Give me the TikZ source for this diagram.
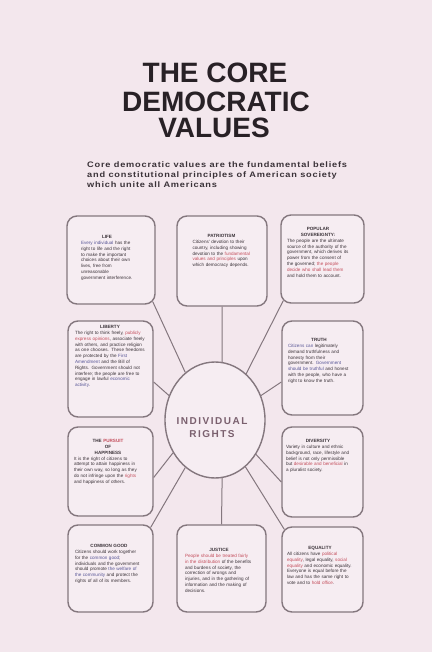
\documentclass[tikz,border=0pt]{standalone}
\usepackage{fontspec}
\setmainfont{Liberation Sans}
\newfontfamily\widefont[FakeStretch=1.15,LetterSpace=10]{Liberation Sans}
\newfontfamily\spacedfont[LetterSpace=15]{Liberation Sans}
\usetikzlibrary{shapes.geometric}
\definecolor{bgpink}{RGB}{243,231,237}
\definecolor{boxfill}{RGB}{246,237,242}
\definecolor{linegray}{RGB}{132,119,126}
\definecolor{titleink}{RGB}{40,33,38}
\definecolor{subink}{RGB}{58,50,56}
\definecolor{bodyink}{RGB}{60,52,58}
\definecolor{redink}{RGB}{196,78,92}
\definecolor{blueink}{RGB}{88,86,150}
\definecolor{rightsink}{RGB}{122,96,110}
\newcommand{\rd}[1]{\textcolor{redink}{#1}}
\newcommand{\bl}[1]{\textcolor{blueink}{#1}}
\tikzset{
  valuebox/.style={draw=linegray, line width=1.4pt, rounded corners=10pt, fill=boxfill, inner sep=0pt},
  spoke/.style={draw=linegray, line width=1pt},
  boxtext/.style={anchor=north, inner sep=0pt, font=\fontsize{4.6}{5.8}\selectfont, text=bodyink},
  bigtitle/.style={anchor=base, font=\bfseries\fontsize{28}{28}\selectfont, text=titleink, inner sep=0pt},
  subtitle/.style={anchor=base west, font=\widefont\bfseries\fontsize{8}{10}\selectfont, text=subink, inner sep=0pt},
}
\begin{document}
\begin{tikzpicture}[x=1pt,y=-1pt]
\fill[bgpink] (0,0) rectangle (432,652);
\useasboundingbox (0,0) rectangle (432,652);

% title
\node[bigtitle] (t1) at (215,83) {THE CORE};
\node[bigtitle] (t2) at (216,112) {DEMOCRATIC};
\node[bigtitle] (t3) at (214,138) {VALUES};
\node[subtitle] (s1) at (87,168) {Core democratic values are the fundamental beliefs};
\node[subtitle] (s2) at (87,178) {and constitutional principles of American society};
\node[subtitle] (s3) at (87,188) {which unite all Americans};

% boxes
\node[valuebox, minimum width=88pt, minimum height=88pt] (life) at (111,260) {};
\node[valuebox, minimum width=90pt, minimum height=90pt] (patr) at (222,261) {};
\node[valuebox, minimum width=83pt, minimum height=88pt] (popsov) at (322.5,259) {};
\node[valuebox, minimum width=85pt, minimum height=96pt] (liberty) at (110.5,369) {};
\node[valuebox, minimum width=81pt, minimum height=94pt] (truth) at (322.5,368) {};
\node[valuebox, minimum width=85pt, minimum height=89pt] (pursuit) at (110.5,471.5) {};
\node[valuebox, minimum width=81pt, minimum height=90pt] (diversity) at (322.5,472) {};
\node[valuebox, minimum width=85pt, minimum height=87pt] (common) at (110.5,568.5) {};
\node[valuebox, minimum width=89pt, minimum height=87pt] (justice) at (221.5,568.5) {};
\node[valuebox, minimum width=81pt, minimum height=85pt] (equality) at (322.5,569.5) {};

% centre
\node[ellipse, draw=linegray, line width=1.4pt, fill=boxfill, minimum width=100pt, minimum height=116pt, inner sep=0pt] (core) at (215,420) {};
\node[font=\spacedfont\bfseries\fontsize{10}{13}\selectfont, text=rightsink, align=center, inner sep=0pt] (rights) at (212,428) {INDIVIDUAL\\RIGHTS};

% spokes
\draw[spoke] ([xshift=-2.9pt,yshift=2.9pt]life.south east) -- (core.122);
\draw[spoke] (patr.south) -- (core.83);
\draw[spoke] ([xshift=2.9pt,yshift=2.9pt]popsov.south west) -- (core.56);
\draw[spoke] ([yshift=-13pt]liberty.east) -- (core.152);
\draw[spoke] ([yshift=-14pt]truth.west) -- (core.28);
\draw[spoke] ([yshift=-6pt]pursuit.east) -- (core.218);
\draw[spoke] ([yshift=-10pt]diversity.west) -- (core.-40);
\draw[spoke] ([xshift=-2.9pt,yshift=-2.9pt]common.north east) -- (core.238);
\draw[spoke] (justice.north) -- (core.-83);
\draw[spoke] ([xshift=2.9pt,yshift=-2.9pt]equality.north west) -- (core.-57);

% texts
\node[boxtext, text width=52pt] (lifetxt) at ([xshift=-4pt,yshift=-20pt]life.north)
 {\centering\textbf{LIFE}\par\raggedright \bl{Every individual} has the right to life and the right to make the important choices about their own lives, free from unreasonable government interference.\par};
\node[boxtext, text width=58pt] (patrtxt) at ([xshift=-0.5pt,yshift=-19pt]patr.north)
 {\centering\textbf{PATRIOTISM}\par\raggedright Citizens' devotion to their country, including showing devotion to the \rd{fundamental values and principles} upon which democracy depends.\par};
\node[boxtext, text width=62pt] (popsovtxt) at ([xshift=-4.5pt,yshift=-13pt]popsov.north)
 {\centering\textbf{POPULAR\\SOVEREIGNTY:}\par\raggedright The people are the ultimate source of the authority of the government, which derives its power from the consent of the governed; \rd{the people decide who shall lead them} and hold them to account.\par};
\node[boxtext, text width=70pt] (libertytxt) at ([xshift=-0.5pt,yshift=-5pt]liberty.north)
 {\centering\textbf{LIBERTY}\par\raggedright The right to think freely, \rd{publicly express opinions}, associate freely with others, and practice religion as one chooses. These freedoms are protected by the \bl{First Amendment} and the Bill of Rights. Government should not interfere; the people are free to engage in lawful \bl{economic activity}.\par};
\node[boxtext, text width=62pt] (truthtxt) at ([xshift=-3.5pt,yshift=-18pt]truth.north)
 {\centering\textbf{TRUTH}\par\raggedright \bl{Citizens can} legitimately demand truthfulness and honesty from their government. \bl{Government should be truthful} and honest with the people, who have a right to know the truth.\par};
\node[boxtext, text width=68pt] (pursuittxt) at ([xshift=-2.5pt,yshift=-13pt]pursuit.north)
 {\centering\textbf{THE \rd{PURSUIT}\\OF\\HAPPINESS}\par\raggedright It is the right of citizens to attempt to attain happiness in their own way, so long as they do not infringe upon the \rd{rights} and happiness of others.\par};
\node[boxtext, text width=64pt] (diversitytxt) at ([xshift=-4.5pt,yshift=-13pt]diversity.north)
 {\centering\textbf{DIVERSITY}\par\raggedright Variety in culture and ethnic background, race, lifestyle and belief is not only permissible but \rd{desirable and beneficial} in a pluralist society.\par};
\node[boxtext, text width=68pt] (commontxt) at ([xshift=-1.5pt,yshift=-20pt]common.north)
 {\centering\textbf{COMMON GOOD}\par\raggedright Citizens should work together for the \bl{common good}; individuals and the government should promote \bl{the welfare of the community} and protect the rights of all of its members.\par};
\node[boxtext, text width=68pt] (justicetxt) at ([xshift=-2.5pt,yshift=-24pt]justice.north)
 {\centering\textbf{JUSTICE}\par\raggedright \rd{People should be treated fairly in the distribution} of the benefits and burdens of society, the correction of wrongs and injuries, and in the gathering of information and the making of decisions.\par};
\node[boxtext, text width=66pt] (equalitytxt) at ([xshift=-2.5pt,yshift=-20pt]equality.north)
 {\centering\textbf{EQUALITY}\par\raggedright All citizens have \rd{political equality}, legal equality, \rd{social equality} and economic equality. Everyone is equal before the law and has the same right to vote and to \rd{hold office}.\par};
\end{tikzpicture}
\end{document}
